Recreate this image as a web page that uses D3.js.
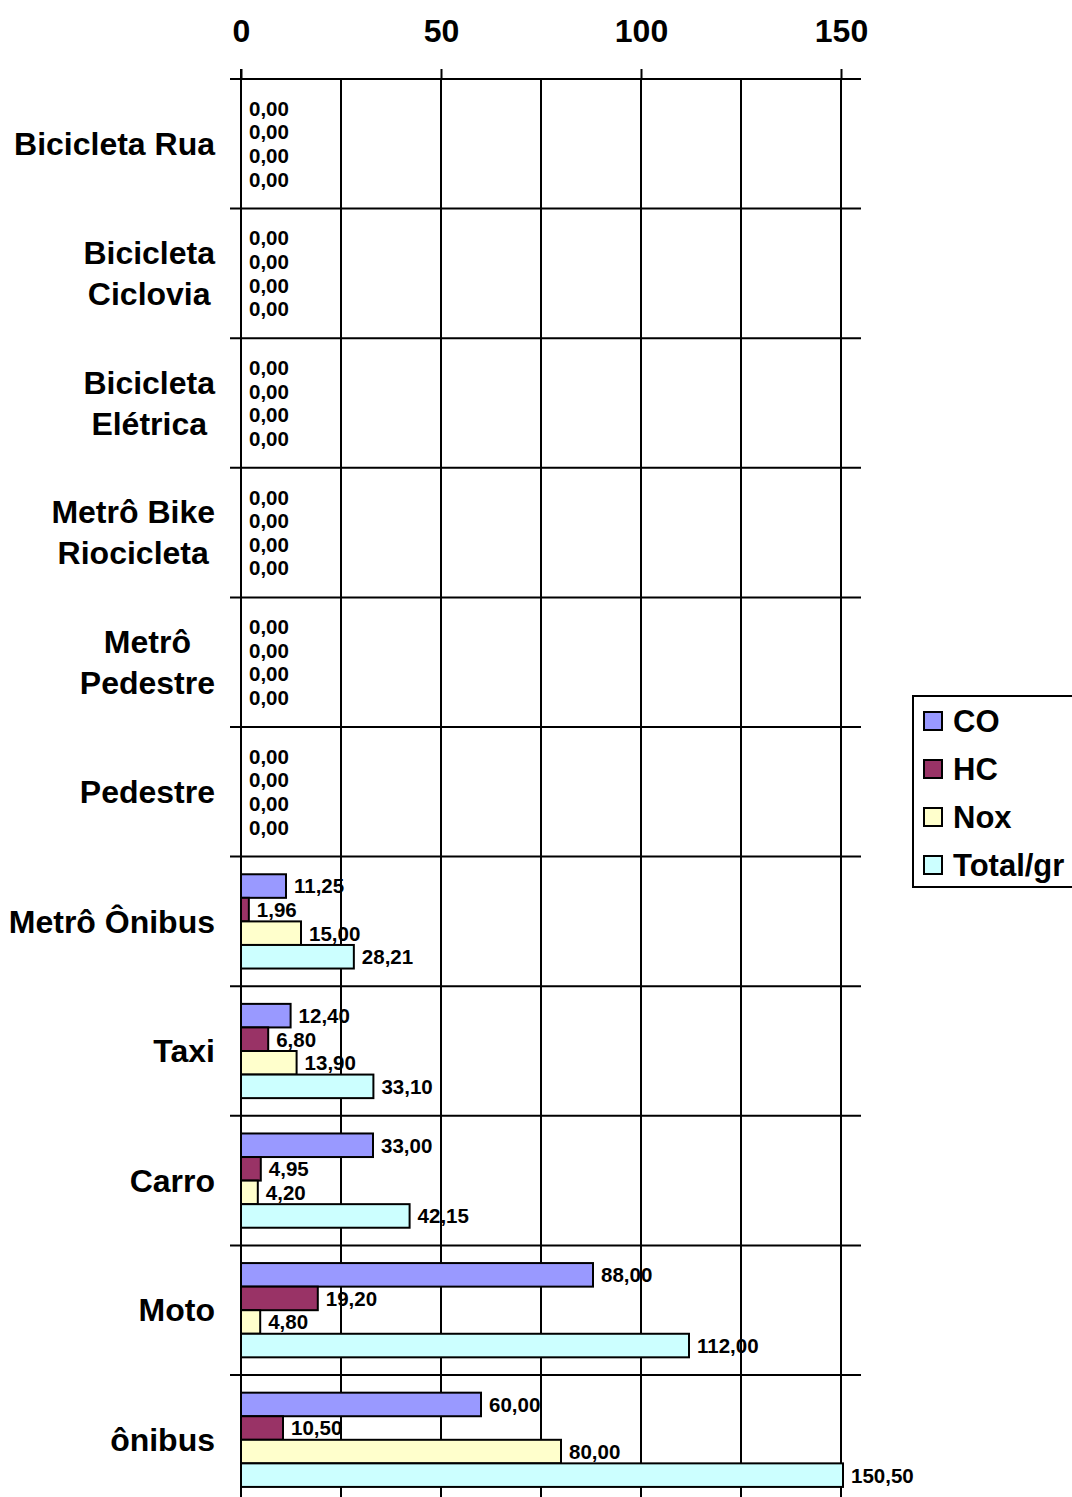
<!DOCTYPE html>
<html>
<head>
<meta charset="utf-8">
<title>Emissões por modal</title>
<style>
  body { margin: 0; background: #fff; }
  svg text { font-family: "Liberation Sans", Arial, sans-serif; font-weight: bold; fill: #000; }
</style>
</head>
<body>
<svg width="1072" height="1497"></svg>
<script src="https://d3js.org/d3.v7.min.js"></script>
<script>

// categorias (de cima para baixo), com quebras de linha
var categorias = [
  ["Bicicleta Rua"],
  ["Bicicleta", "Ciclovia"],
  ["Bicicleta", "Elétrica"],
  ["Metrô Bike", "Riocicleta"],
  ["Metrô", "Pedestre"],
  ["Pedestre"],
  ["Metrô Ônibus"],
  ["Taxi"],
  ["Carro"],
  ["Moto"],
  ["ônibus"]
];

var series = ["CO", "HC", "Nox", "Total/gr"];
var cores = ["#9999ff", "#993366", "#ffffcc", "#ccffff"];

var CO    = [0, 0, 0, 0, 0, 0, 11.25, 12.40, 33.00, 88.00, 60.00];
var HC    = [0, 0, 0, 0, 0, 0, 1.96, 6.80, 4.95, 19.20, 10.50];
var Nox   = [0, 0, 0, 0, 0, 0, 15.00, 13.90, 4.20, 4.80, 80.00];
var Total = [0, 0, 0, 0, 0, 0, 28.21, 33.10, 42.15, 112.00, 150.50];

var ticksX = [0, 50, 100, 150];
var gradeX = [25, 50, 75, 100, 125, 150];

var valores = [CO, HC, Nox, Total];

var svg = d3.select("svg");

var esq = 241, topo = 79, bandH = 129.6;

var x = d3.scaleLinear().domain([0, 155]).range([esq, esq + 155 * 4]);

var nomes = categorias.map(function(c, i) { return "c" + i; });
var y = d3.scaleBand()
    .domain(nomes)
    .range([topo, topo + bandH * categorias.length])
    .paddingInner(0).paddingOuter(0);

var ySerie = d3.scaleBand()
    .domain(series)
    .range([0, y.bandwidth()])
    .paddingInner(0).paddingOuter(0.75);

// grade vertical
svg.append("g").selectAll("line")
  .data(gradeX)
  .enter().append("line")
    .attr("x1", function(d) { return x(d); })
    .attr("x2", function(d) { return x(d); })
    .attr("y1", topo)
    .attr("y2", y.range()[1])
    .attr("stroke", "#000").attr("stroke-width", 2);

// grade horizontal (limites das categorias)
var limites = nomes.map(function(n) { return y(n); }).concat([y.range()[1]]);
svg.append("g").selectAll("line")
  .data(limites)
  .enter().append("line")
    .attr("x1", esq - 11)
    .attr("x2", x(155))
    .attr("y1", function(d) { return d; })
    .attr("y2", function(d) { return d; })
    .attr("stroke", "#000").attr("stroke-width", 2);

// eixo X no topo
var eixoX = svg.append("g")
    .attr("transform", "translate(0," + topo + ")")
    .call(d3.axisTop(x).tickValues(ticksX).tickSize(10).tickPadding(27).tickFormat(d3.format("d")));
eixoX.select(".domain").remove();
eixoX.selectAll(".tick line").attr("stroke", "#000").attr("stroke-width", 2);
eixoX.selectAll(".tick text")
    .style("font-size", "32px").style("font-family", "'Liberation Sans', Arial, sans-serif")
    .style("font-weight", "bold").attr("fill", "#000");

// eixo Y (linha do zero)
svg.append("line")
    .attr("x1", x(0)).attr("x2", x(0))
    .attr("y1", topo - 10).attr("y2", y.range()[1])
    .attr("stroke", "#000").attr("stroke-width", 2);

// rótulos das categorias
var rotulos = svg.append("g");
categorias.forEach(function(linhas, i) {
  var t = rotulos.append("text")
      .attr("text-anchor", "middle")
      .style("font-size", "32px");
  linhas.forEach(function(l) {
    t.append("tspan").text(l);
  });
  var larg = 0;
  t.selectAll("tspan").each(function() { larg = Math.max(larg, this.getComputedTextLength()); });
  var cx = 215 - larg / 2;
  var cy = y(nomes[i]) + y.bandwidth() / 2;
  var n = linhas.length;
  t.selectAll("tspan")
      .attr("x", cx)
      .attr("y", function(d, j) { return cy + (j - (n - 1) / 2) * 41; })
      .attr("dy", "0.35em");
});

// barras
var dados = [];
nomes.forEach(function(n, i) {
  series.forEach(function(s, k) {
    dados.push({ cat: n, serie: s, k: k, v: valores[k][i] });
  });
});

var barras = svg.append("g");
barras.selectAll("rect")
  .data(dados.filter(function(d) { return d.v > 0; }))
  .enter().append("rect")
    .attr("x", x(0))
    .attr("y", function(d) { return y(d.cat) + ySerie(d.serie); })
    .attr("width", function(d) { return x(d.v) - x(0); })
    .attr("height", ySerie.bandwidth())
    .attr("fill", function(d) { return cores[d.k]; })
    .attr("stroke", "#000").attr("stroke-width", 2);

// rótulos de valores
var fmt = function(v) { return d3.format(".2f")(v).replace(".", ","); };
svg.append("g").selectAll("text")
  .data(dados)
  .enter().append("text")
    .attr("x", function(d) { return x(d.v) + 8; })
    .attr("y", function(d) { return y(d.cat) + ySerie(d.serie) + ySerie.bandwidth() / 2; })
    .attr("dy", "0.36em")
    .style("font-size", "20.5px")
    .text(function(d) { return fmt(d.v); });

// legenda
var leg = svg.append("g").attr("transform", "translate(913,696)");
leg.append("rect")
    .attr("x", 0).attr("y", 0)
    .attr("width", 200).attr("height", 191)
    .attr("fill", "#fff").attr("stroke", "#000").attr("stroke-width", 2);
var itens = leg.selectAll("g.item")
  .data(series)
  .enter().append("g")
    .attr("class", "item")
    .attr("transform", function(d, i) { return "translate(0," + (25 + i * 48) + ")"; });
itens.append("rect")
    .attr("x", 11).attr("y", -9)
    .attr("width", 18).attr("height", 18)
    .attr("fill", function(d, i) { return cores[i]; })
    .attr("stroke", "#000").attr("stroke-width", 2);
itens.append("text")
    .attr("x", 40).attr("y", 0).attr("dy", "0.36em")
    .style("font-size", "31px")
    .text(function(d) { return d; });

</script>
</body>
</html>
